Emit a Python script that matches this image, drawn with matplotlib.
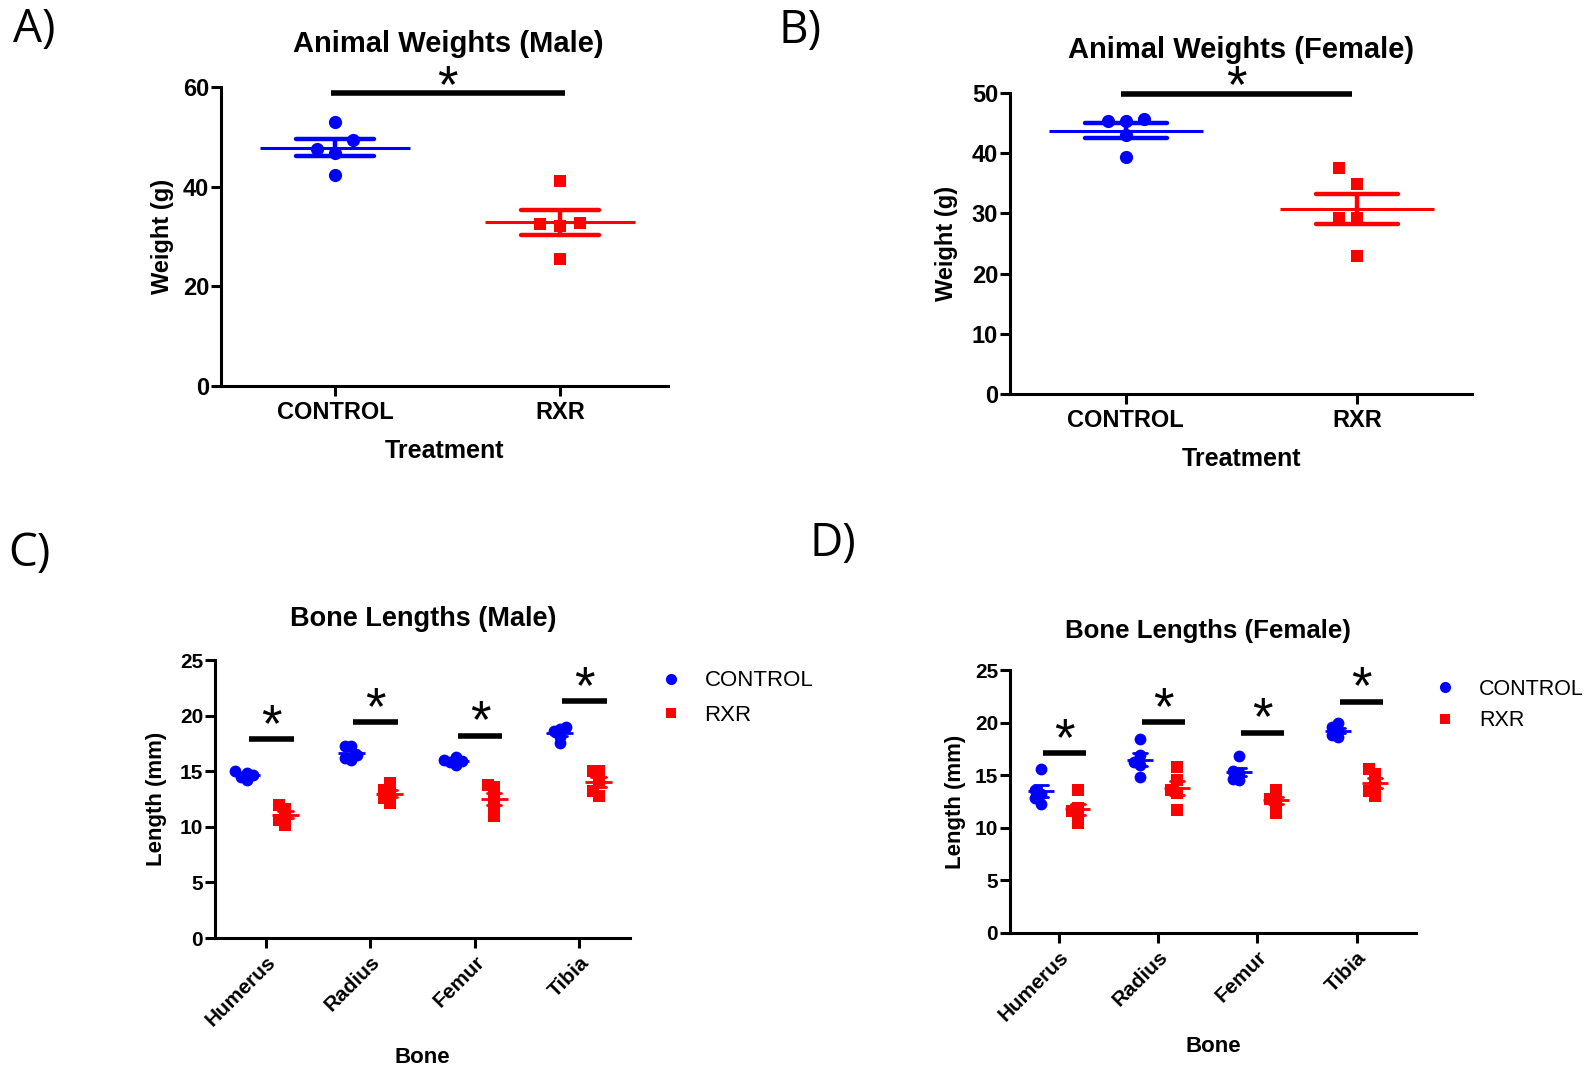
import numpy as np
import matplotlib
matplotlib.use('Agg')
import matplotlib.pyplot as plt
from matplotlib.lines import Line2D

# ---------------- data ----------------
groups = ['CONTROL', 'RXR']
male_weight_control = [53.0, 49.4, 47.5, 46.8, 42.4]
male_weight_rxr = [41.1, 32.8, 32.6, 32.2, 25.5]
female_weight_control = [45.7, 45.4, 45.3, 43.0, 39.3]
female_weight_rxr = [37.5, 34.9, 29.2, 29.2, 22.9]

bones = ['Humerus', 'Radius', 'Femur', 'Tibia']
male_bone_control = [[15.0, 14.8, 14.7, 14.5, 14.2],
                     [17.3, 17.3, 16.5, 16.2, 16.0],
                     [16.3, 16.0, 15.9, 15.8, 15.6],
                     [19.0, 18.8, 18.6, 18.1, 17.5]]
male_bone_rxr = [[12.0, 11.6, 11.0, 10.6, 10.2],
                 [13.9, 13.3, 12.9, 12.6, 12.1],
                 [13.8, 13.6, 12.6, 11.7, 11.0],
                 [15.0, 15.0, 14.2, 13.2, 12.8]]
female_bone_control = [[15.6, 13.6, 13.2, 12.8, 12.3],
                       [18.4, 16.9, 16.3, 16.0, 14.8],
                       [16.8, 15.4, 15.2, 14.6, 14.5],
                       [20.0, 19.6, 19.2, 18.8, 18.6]]
female_bone_rxr = [[13.6, 11.9, 11.6, 11.2, 10.5],
                   [15.8, 14.5, 13.6, 13.3, 11.7],
                   [13.6, 13.0, 12.7, 12.3, 11.4],
                   [15.6, 15.1, 14.0, 13.5, 13.0]]

sig_weight_male = 58.7
sig_weight_female = 49.8
sig_bone_male = [17.9, 19.4, 18.2, 21.3]
sig_bone_female = [17.1, 20.05, 19.05, 22.0]

# ---------------- style ----------------
plt.rcParams['font.family'] = ['Liberation Sans', 'DejaVu Sans']
BLUE = '#0000FF'
RED = '#FF0000'
W, H = 1592, 1065
fig = plt.figure(figsize=(W / 100, H / 100), dpi=100)


def add_axes_px(left, right, top, bottom):
    return fig.add_axes([left / W, 1 - bottom / H, (right - left) / W, (bottom - top) / H])


def ftext(x, y, s, **kw):
    fig.text(x / W, 1 - y / H, s, **kw)


def style_axes(ax, ylim, yticks, ytick_size):
    for s in ['top', 'right']:
        ax.spines[s].set_visible(False)
    for s in ['left', 'bottom']:
        ax.spines[s].set_linewidth(2.2)
        ax.spines[s].set_color('black')
    ax.set_ylim(*ylim)
    ax.set_yticks(yticks)
    ax.tick_params(axis='both', width=2.2, length=7, direction='out', color='black')
    ax.tick_params(axis='y', pad=1.5)
    for lab in ax.get_yticklabels():
        lab.set_fontweight('bold')
        lab.set_fontsize(ytick_size)


def swarm(ax, xc, vals, diam_px, step_px):
    inv = ax.transData.inverted()
    cx, _ = ax.transData.transform((xc, 0))
    placed = []
    xs = [None] * len(vals)
    for i in np.argsort(vals):
        _, py = ax.transData.transform((xc, vals[i]))
        px = cx
        for k in [0, -1, 1, -2, 2, -3, 3]:
            px = cx + k * step_px
            if all(abs(px - qx) >= step_px * 0.9 or abs(py - qy) >= diam_px for qx, qy in placed):
                break
        placed.append((px, py))
        xs[i] = inv.transform((px, py))[0]
    return xs


def group(ax, xc, vals, color, marker, ms, diam_px, step_px, mean_hw, cap_hw, lw_mean, lw_cap):
    xs = swarm(ax, xc, vals, diam_px, step_px)
    ax.plot(xs, vals, linestyle='none', marker=marker, ms=ms, color=color,
            markeredgewidth=0, zorder=2, clip_on=False)
    m = np.mean(vals)
    se = np.std(vals, ddof=1) / np.sqrt(len(vals))
    ax.plot([xc - mean_hw, xc + mean_hw], [m, m], color=color, lw=lw_mean, zorder=3,
            solid_capstyle='butt')
    ax.plot([xc, xc], [m - se, m + se], color=color, lw=lw_cap, zorder=3, solid_capstyle='butt')
    for yv in (m - se, m + se):
        ax.plot([xc - cap_hw, xc + cap_hw], [yv, yv], color=color, lw=lw_cap, zorder=3,
                solid_capstyle='round')


def star(ax, x, y, dy_pts):
    ax.annotate('*', xy=(x, y), xytext=(0, dy_pts), textcoords='offset points',
                ha='center', va='baseline', fontsize=38, fontweight='normal',
                annotation_clip=False)


# ---------------- Panel A ----------------
axA = add_axes_px(221, 668, 87, 386)
axA.set_xlim(-0.507, (668 - 335) / 225)
style_axes(axA, (0, 60), [0, 20, 40, 60], 17)
axA.set_xticks([0, 1])
axA.set_xticklabels(groups, fontsize=17, fontweight='bold')
group(axA, 0, male_weight_control, BLUE, 'o', 9.5, 14, 18, 0.333, 0.173, 2.2, 3.2)
group(axA, 1, male_weight_rxr, RED, 's', 8.5, 12, 20, 0.333, 0.173, 2.2, 3.2)
axA.plot([-0.02, 1.02], [sig_weight_male] * 2, color='black', lw=4, solid_capstyle='butt', clip_on=False)
star(axA, 0.5, sig_weight_male, -6.3)
axA.set_xlabel('Treatment', fontsize=18, fontweight='bold', labelpad=11)
axA.set_ylabel('Weight (g)', fontsize=17, fontweight='bold', labelpad=6)
ftext(448, 44, 'Animal Weights (Male)', ha='center', va='center', fontsize=21, fontweight='bold')

# ---------------- Panel B ----------------
axB = add_axes_px(1010, 1472, 93, 394)
axB.set_xlim(-0.5, (1472 - 1125.7) / 231.3)
style_axes(axB, (0, 50), [0, 10, 20, 30, 40, 50], 17)
axB.set_xticks([0, 1])
axB.set_xticklabels(groups, fontsize=17, fontweight='bold')
group(axB, 0, female_weight_control, BLUE, 'o', 9.5, 14, 18, 0.333, 0.177, 2.2, 3.2)
group(axB, 1, female_weight_rxr, RED, 's', 8.5, 16, 18, 0.333, 0.177, 2.2, 3.2)
axB.plot([-0.02, 0.98], [sig_weight_female] * 2, color='black', lw=4, solid_capstyle='butt', clip_on=False)
star(axB, 0.48, sig_weight_female, -5.8)
axB.set_xlabel('Treatment', fontsize=18, fontweight='bold', labelpad=11)
axB.set_ylabel('Weight (g)', fontsize=17, fontweight='bold', labelpad=10)
ftext(1241, 50, 'Animal Weights (Female)', ha='center', va='center', fontsize=21, fontweight='bold')


# ---------------- Panels C & D ----------------
def bone_panel(ax, ctrl, rxr, sig, xlabelpad, ylabelpad):
    ax.set_xticks(range(len(bones)))
    ax.set_xticklabels(bones, rotation=45, ha='right', rotation_mode='anchor',
                       fontsize=15, fontweight='bold')
    style_axes(ax, (0, 25), [0, 5, 10, 15, 20, 25], 15)
    off = 0.185
    for i in range(len(bones)):
        group(ax, i - off, ctrl[i], BLUE, 'o', 8.5, 6, 6, 0.13, 0.07, 2.0, 2.0)
        group(ax, i + off, rxr[i], RED, 's', 8.0, 6, 6, 0.13, 0.07, 2.0, 2.0)
        ax.plot([i + 0.05 - 0.215, i + 0.05 + 0.215], [sig[i]] * 2, color='black', lw=4,
                solid_capstyle='butt', clip_on=False)
        star(ax, i + 0.05, sig[i], -1.3)
    ax.set_xlabel('Bone', fontsize=16, fontweight='bold', labelpad=xlabelpad)
    ax.set_ylabel('Length (mm)', fontsize=16, fontweight='bold', labelpad=ylabelpad)
    handles = [Line2D([], [], linestyle='none', marker='o', ms=8, color=BLUE, markeredgewidth=0),
               Line2D([], [], linestyle='none', marker='s', ms=7, color=RED, markeredgewidth=0)]
    return handles


axC = add_axes_px(215, 630, 660, 938)
axC.set_xlim(-0.489, (630 - 266) / 104.4)
hC = bone_panel(axC, male_bone_control, male_bone_rxr, sig_bone_male, 12, 9)
axC.legend(hC, groups, loc='center left', bbox_to_anchor=(660 / W, 1 - 698 / H),
           bbox_transform=fig.transFigure, frameon=False, fontsize=16,
           handletextpad=1.0, labelspacing=0.6, handlelength=1.0, borderpad=0, borderaxespad=0)
ftext(423, 619, 'Bone Lengths (Male)', ha='center', va='center', fontsize=19.5, fontweight='bold')

axD = add_axes_px(1010, 1416, 670, 933)
axD.set_xlim(-0.497, (1416 - 1059.3) / 99.1)
hD = bone_panel(axD, female_bone_control, female_bone_rxr, sig_bone_female, 8, 6)
axD.legend(hD, groups, loc='center left', bbox_to_anchor=(1434 / W, 1 - 705 / H),
           bbox_transform=fig.transFigure, frameon=False, fontsize=15.5,
           handletextpad=1.1, labelspacing=0.5, handlelength=1.0, borderpad=0, borderaxespad=0)
ftext(1208, 631, 'Bone Lengths (Female)', ha='center', va='center', fontsize=18.6, fontweight='bold')

# ---------------- panel letters ----------------
for x, y, s in [(34, 30, 'A)'), (800, 31, 'B)'), (29, 554, 'C)'), (833, 544, 'D)')]:
    fig.text(x / W, 1 - y / H, s, ha='center', va='center', fontsize=33,
             family=['Open Sans', 'DejaVu Sans'])

fig.savefig('out.png', dpi=100)
